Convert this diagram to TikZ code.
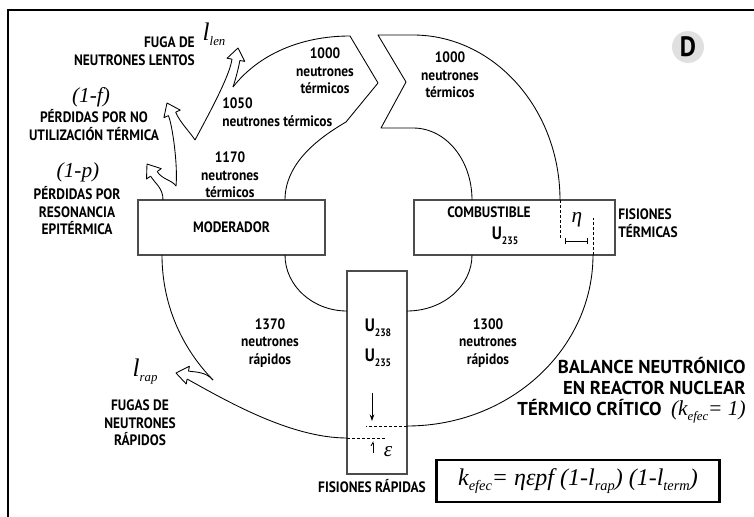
\documentclass[tikz,border=0pt]{standalone}
\usepackage{fontspec}
\usepackage{graphicx}
\setmainfont{Liberation Serif}
\newfontfamily\labelfont{PT Sans}[FakeStretch=0.89]
\newfontfamily\titlefont{PT Sans}
\usetikzlibrary{calc,arrows.meta}

\newcommand{\lowsub}[1]{\raisebox{-0.5ex}{\scalebox{0.6}{#1}}}

% open head of a leak arrow: tip, direction, name of the two shaft ends
\newcommand{\leakhead}[3]{
    \begin{scope}[shift={(#1)}, rotate=#2]
        \draw[flow] (-12,4) coordinate (#3r) -- (-12,9) -- (0,0)
            -- (-12,-9) -- (-12,-4) coordinate (#3l);
    \end{scope}
}

\begin{document}
\begin{tikzpicture}[x=0.75pt, y=-0.75pt,
    flow/.style={line width=0.65pt, line join=round},
    cut/.style={line width=0.65pt, dash pattern=on 2.2pt off 1.6pt},
    box/.style={draw=black!70, line width=0.8pt, inner sep=0pt},
    lbl/.style={font=\labelfont\bfseries\fontsize{11.3}{13.1}\selectfont,
        align=center, inner sep=0pt},
    big/.style={font=\titlefont\bfseries\fontsize{14}{15.8}\selectfont,
        align=right, inner sep=0pt},
    sym/.style={font=\itshape\fontsize{16}{16}\selectfont, inner sep=0pt}
]
    % Frame
    \useasboundingbox (0,0) rectangle (754,517);
    \draw[line width=2pt] (8,517) -- (8,10) -- (754,10);
    \node[circle, fill=black!12, minimum size=24pt, inner sep=0pt,
          font=\labelfont\bfseries\fontsize{21}{21}\selectfont
    ] (tag) at (688,47) {D};

    % Boxes
    \node[box, lbl, minimum width=140.25pt, minimum height=41.25pt]
        (moderador) at (231.5,227.5) {MODERADOR};
    \node[box, minimum width=150.75pt, minimum height=41.25pt]
        (combustible) at (514.5,227.5) {};
    \node[box, minimum width=45pt, minimum height=152.25pt]
        (nucleo) at (377,372.5) {};
    \node[lbl] (combname) at (489,212) {COMBUSTIBLE};
    \node[lbl, font=\labelfont\bfseries\fontsize{13.5}{13.5}\selectfont]
        (u235c) at (505,236) {U\lowsub{235}};
    \node[lbl, font=\labelfont\bfseries\fontsize{13.5}{13.5}\selectfont]
        (u238) at (378,328) {U\lowsub{238}};
    \node[lbl, font=\labelfont\bfseries\fontsize{13.5}{13.5}\selectfont]
        (u235n) at (378,358) {U\lowsub{235}};

    % Flow end points
    \coordinate (modin) at (285,200);
    \coordinate (modout) at (163,200);
    \coordinate (combin) at (472,200);
    \coordinate (combout) at (560,200);
    \coordinate (modlow) at (285,255);
    \coordinate (modfast) at (162,255);
    \coordinate (comblow) at (472,255);
    \coordinate (combfast) at (593,255);
    \coordinate (nucL) at (347,311);
    \coordinate (nucR) at (407,311);
    \coordinate (nucRfast) at (407,426);
    \coordinate (nucLfast) at (347,438);
    \coordinate (j1) at (176,186);
    \coordinate (j2) at (195,140);
    \coordinate (j3) at (233,87);
    \coordinate (jrap) at (213,380);

    % Thermal band, moderator side
    \draw[flow] (modin) .. controls (285,165) and (315,140) .. (346,122)
        -- (378,83) -- (350,36) .. controls (300,36) and (258,55) .. (j3);
    % Thermal band, fuel side
    \draw[flow] (combin) .. controls (472,160) and (446,128) .. (413,128)
        -- (381,128) -- (406,82) -- (378,35) -- (413,35)
        .. controls (494,35) and (560,109) .. (combout);
    \draw[cut] (combout) -- (560,240);

    % Leaks from the thermal band
    \leakhead{147,164}{125}{pmh}
    \draw[flow] (modout) .. controls (163,188) and ($(pmhl)+(5,8)$) .. (pmhl);
    \draw[flow] (j1) .. controls (172,180) and ($(pmhr)+(5,8)$) .. (pmhr);
    \leakhead{167,103}{115}{pfh}
    \draw[flow] (j1) .. controls (178,165) and ($(pfhl)+(4,10)$) .. (pfhl);
    \draw[flow] (j2) .. controls (190,132) and ($(pfhr)+(4,10)$) .. (pfhr);
    \leakhead{238,48}{80}{llh}
    \draw[flow] (j2) .. controls (210,112) and ($(llhl)+(-2,16)$) .. (llhl);
    \draw[flow] (j3) .. controls (236,78) and ($(llhr)+(-1,6)$) .. (llhr);

    % Fast band
    \draw[flow] (modlow) .. controls (285,286) and (313,311) .. (nucL);
    \draw[flow] (comblow) .. controls (472,286) and (443,311) .. (nucR);
    \draw[flow] (combfast) .. controls (593,349) and (510,426) .. (nucRfast);
    \draw[cut] (nucRfast) -- (366,426);
    \draw[cut] (combfast) -- (593,218);
    \draw[flow] (modfast) .. controls (162,302) and (180,346) .. (jrap);
    \leakhead{176,373}{170}{lrh}
    \draw[flow] (jrap) .. controls (206,372) and ($(lrhr)+(8,1)$) .. (lrhr);
    \draw[flow] (nucLfast) .. controls (290,438) and (225,400) .. (lrhl);
    \draw[cut] (nucLfast) -- (386,438);

    % Markers
    \draw[flow, -{Stealth[length=5pt, width=3.5pt]}] (372,393) -- (372,421);
    \draw[flow, -{Straight Barb[harpoon, length=2.5pt, width=3pt]}]
        (373,453) -- (373,441);
    \draw[flow, {Bar[width=5pt]}-{Bar[width=5pt]}] (565,241) -- (588,241);
    \node[sym] (eta) at (577,220) {η};
    \node[sym] (eps) at (388,452) {ε};

    % Labels
    \node[lbl, align=right, anchor=east] (fuga) at (195,51)
        {FUGA DE\\NEUTRONES LENTOS};
    \node[sym] (llen) at (214,34) {{\fontsize{19}{19}\selectfont l}\lowsub{len}};
    \node[sym] (onef) at (91,97) {(1-f)};
    \node[lbl] (noutil) at (94,125) {PÉRDIDAS POR NO\\UTILIZACIÓN TÉRMICA};
    \node[sym] (onep) at (78,172) {(1-p)};
    \node[lbl] (reson) at (77,211) {PÉRDIDAS POR\\RESONANCIA\\EPITÉRMICA};
    \node[lbl] (n1170) at (230,175) {1170\\neutrones\\térmicos};
    \node[lbl, align=left, anchor=west] (n1050) at (222,112)
        {1050\\neutrones térmicos};
    \node[lbl] (n1000a) at (325,71) {1000\\neutrones\\térmicos};
    \node[lbl] (n1000b) at (450,75) {1000\\neutrones\\térmicos};
    \node[lbl, align=left, anchor=west] (fister) at (618,223)
        {FISIONES\\TÉRMICAS};
    \node[lbl] (n1370) at (270,343) {1370\\neutrones\\rápidos};
    \node[lbl] (n1300) at (488,343) {1300\\neutrones\\rápidos};
    \node[sym] (lrap) at (145,372) {{\fontsize{19}{19}\selectfont l}\lowsub{rap}};
    \node[lbl] (fugrap) at (140,423) {FUGAS DE\\NEUTRONES\\RÁPIDOS};
    \node[lbl] (fisrap) at (372,486) {FISIONES RÁPIDAS};
    \node[big, anchor=east] (balance) at (746,390)
        {BALANCE NEUTRÓNICO\\EN REACTOR NUCLEAR\\TÉRMICO CRÍTICO\ \
        {\rmfamily\mdseries\itshape\fontsize{16}{16}\selectfont
        (k\lowsub{efec}= 1)}};

    % Formula
    \node[draw, line width=2pt, minimum width=212pt, minimum height=31.5pt,
          sym, font=\itshape\fontsize{18}{18}\selectfont
    ] (formula) at (578,481)
        {k\lowsub{efec}= ηεpf (1-l\lowsub{rap}) (1-l\lowsub{term})};
\end{tikzpicture}
\end{document}
